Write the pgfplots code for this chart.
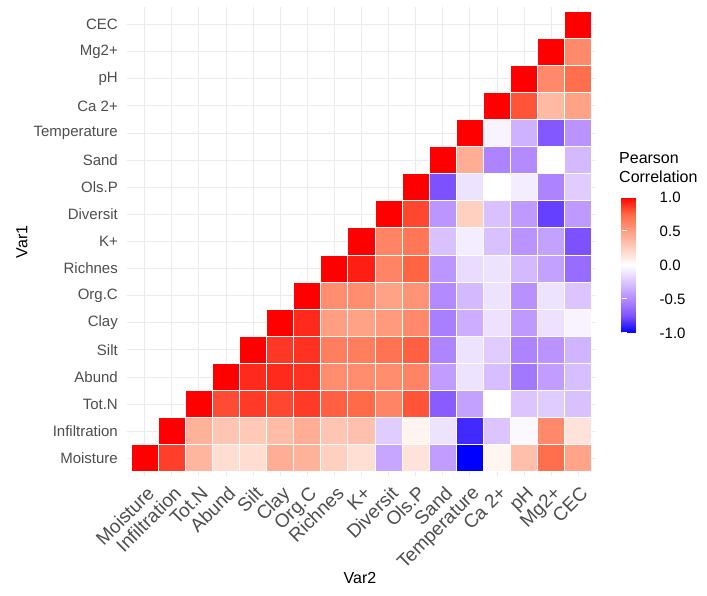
\documentclass[border=0pt]{standalone}
\usepackage{pgfplots}
\pgfplotsset{compat=1.18}
\usepackage{pgfplotstable}
\usepackage{fontspec}
\setmainfont{Liberation Sans}
\definecolor{gridgrey}{HTML}{EBEBEB}
\definecolor{grey30}{HTML}{4D4D4D}

% blue - white - red, interpolated in Lab like ggplot's gradient2
\pgfplotsset{
  colormap={pearson}{rgb255=(0,0,255) rgb255=(126,81,255) rgb255=(179,138,255)
    rgb255=(220,197,255) rgb255=(255,255,255) rgb255=(255,207,191)
    rgb255=(255,158,129) rgb255=(255,104,70) rgb255=(255,0,0)}
}

% x = Var2 index, y = Var1 index, c = correlation (upper triangle only)
\pgfplotstableread{
x y c
0 0 1
1 0 0.85
2 0 0.38
3 0 0.18
4 0 0.18
5 0 0.42
6 0 0.40
7 0 0.25
8 0 0.17
9 0 -0.38
10 0 0.15
11 0 -0.42
12 0 -1.0
13 0 0.05
14 0 0.33
15 0 0.72
16 0 0.47
1 1 1
2 1 0.40
3 1 0.30
4 1 0.28
5 1 0.35
6 1 0.42
7 1 0.30
8 1 0.32
9 1 -0.22
10 1 0.06
11 1 -0.12
12 1 -0.87
13 1 -0.25
14 1 -0.03
15 1 0.60
16 1 0.15
2 2 1
3 2 0.82
4 2 0.86
5 2 0.83
6 2 0.86
7 2 0.77
8 2 0.74
9 2 0.62
10 2 0.80
11 2 -0.70
12 2 -0.40
13 2 0.0
14 2 -0.25
15 2 -0.22
16 2 -0.27
3 3 1
4 3 0.90
5 3 0.90
6 3 0.88
7 3 0.58
8 3 0.58
9 3 0.58
10 3 0.62
11 3 -0.42
12 3 -0.12
13 3 -0.28
14 3 -0.58
15 3 -0.42
16 3 -0.28
4 4 1
5 4 0.87
6 4 0.88
7 4 0.65
8 4 0.65
9 4 0.70
10 4 0.77
11 4 -0.52
12 4 -0.12
13 4 -0.22
14 4 -0.53
15 4 -0.46
16 4 -0.32
5 5 1
6 5 0.90
7 5 0.50
8 5 0.48
9 5 0.52
10 5 0.60
11 5 -0.55
12 5 -0.35
13 5 -0.13
14 5 -0.43
15 5 -0.13
16 5 -0.05
6 6 1
7 6 0.58
8 6 0.58
9 6 0.48
10 6 0.55
11 6 -0.50
12 6 -0.30
13 6 -0.12
14 6 -0.47
15 6 -0.12
16 6 -0.25
7 7 1
8 7 0.93
9 7 0.62
10 7 0.76
11 7 -0.45
12 7 -0.15
13 7 -0.12
14 7 -0.30
15 7 -0.40
16 7 -0.63
8 8 1
9 8 0.62
10 8 0.68
11 8 -0.27
12 8 -0.08
13 8 -0.27
14 8 -0.46
15 8 -0.40
16 8 -0.75
9 9 1
10 9 0.83
11 9 -0.45
12 9 0.25
13 9 -0.27
14 9 -0.43
15 9 -0.80
16 9 -0.43
10 10 1
11 10 -0.75
12 10 -0.12
13 10 0.0
14 10 -0.08
15 10 -0.53
16 10 -0.22
11 11 1
12 11 0.42
13 11 -0.53
14 11 -0.50
15 11 0.0
16 11 -0.30
12 12 1
13 12 -0.05
14 12 -0.33
15 12 -0.72
16 12 -0.46
13 13 1
14 13 0.80
15 13 0.36
16 13 0.48
14 14 1
15 14 0.60
16 14 0.72
15 15 1
16 15 0.60
16 16 1
}\corrtable

\begin{document}
\begin{tikzpicture}
\useasboundingbox (0,0) rectangle (707pt,596pt);
\begin{axis}[
  at={(127pt,120pt)}, anchor=south west,
  scale only axis, width=469pt, height=469pt,
  xmin=-0.65, xmax=16.65, ymin=-0.65, ymax=16.65,
  colormap name=pearson, point meta min=-1, point meta max=1,
  axis line style={draw=none},
  major tick length=0pt,
  grid=major, grid style={gridgrey, line width=0.9pt},
  xtick={0,...,16}, ytick={0,...,16},
  xticklabels={Moisture,Infiltration,Tot.N,Abund,Silt,Clay,Org.C,Richnes,K+,Diversit,Ols.P,Sand,Temperature,Ca 2+,pH,Mg2+,CEC},
  yticklabels={Moisture,Infiltration,Tot.N,Abund,Silt,Clay,Org.C,Richnes,K+,Diversit,Ols.P,Sand,Temperature,Ca 2+,pH,Mg2+,CEC},
  xticklabel style={font=\fontsize{19}{22}\selectfont, text=grey30, inner sep=0pt, xshift=1pt, yshift=-9pt, rotate=45, anchor=north east},
  yticklabel style={font=\fontsize{15}{18}\selectfont, text=grey30, inner sep=0pt, xshift=-9pt, anchor=east},
  colorbar,
  colorbar style={
    at={(parent axis.south east)}, anchor=south west, xshift=17pt, yshift=143pt,
    scale only axis, width=29pt, height=136pt,
    axis line style={draw=none},
    ytick={-1,-0.5,0,0.5,1},
    ytick pos=both, yticklabel pos=right,
    tick align=inside, major tick length=5.5pt,
    ytick style={draw=white, line width=1pt},
    axis on top,
    yticklabel style={font=\fontsize{15}{18}\selectfont, inner sep=0pt, xshift=9pt,
      /pgf/number format/fixed, /pgf/number format/fixed zerofill,
      /pgf/number format/precision=1, /pgf/number format/assume math mode=true},
  },
]
\addplot[scatter, only marks, mark=square*, mark size=13.53pt,
  scatter/use mapped color={draw=white, fill=mapped color},
  mark options={line width=1pt}, point meta=explicit]
  table[x=x, y=y, meta=c] {\corrtable};
\end{axis}
\node[rotate=90, font=\fontsize{16}{19}\selectfont] at (22pt,354pt) {Var1};
\node[font=\fontsize{16}{19}\selectfont] at (360pt,18pt) {Var2};
\node[anchor=north west, align=left, inner sep=0pt, font=\fontsize{16}{19}\selectfont] at (619pt,444pt) {Pearson\\Correlation};
\end{tikzpicture}
\end{document}
